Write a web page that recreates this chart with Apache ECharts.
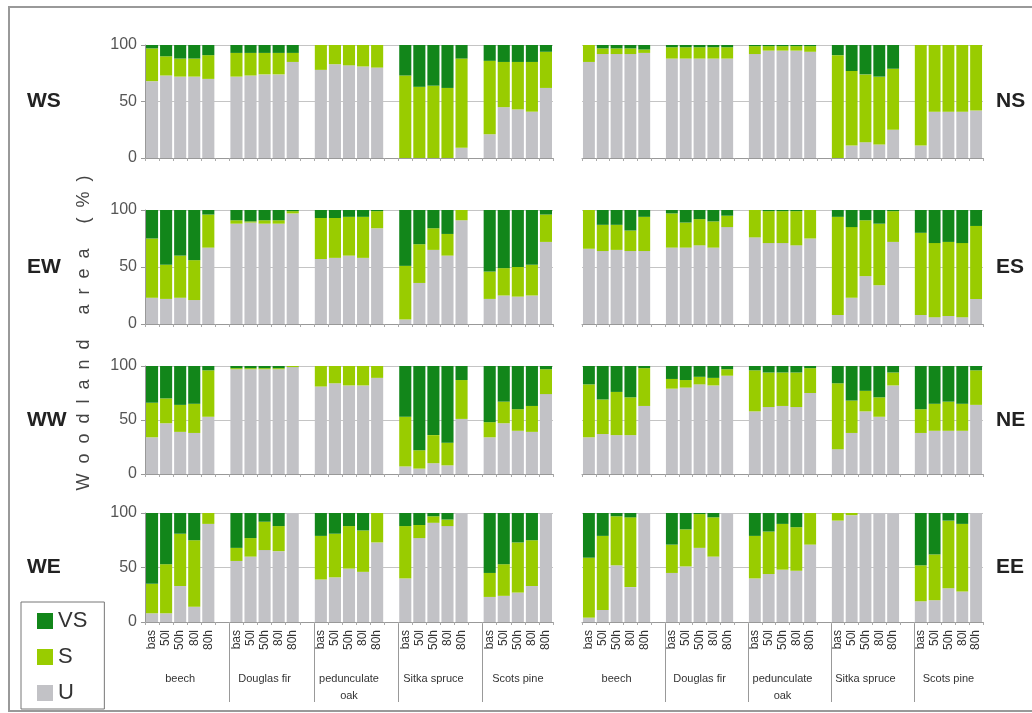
<!DOCTYPE html>
<html>
<head>
<meta charset="utf-8">
<script src="https://cdn.jsdelivr.net/npm/echarts@6/dist/echarts.min.js"></script>
<style>
html, body { margin: 0; padding: 0; background: #fff; }
#main { width: 1032px; height: 713px; }
</style>
</head>
<body>
<div id="main"></div>
<script>
var scenarios = ['bas', '50l', '50h', '80l', '80h'];
var species = ['beech', 'Douglas fir', 'pedunculate\noak', 'Sitka spruce', 'Scots pine'];
var yTicks = [0, 50, 100];

// values per panel: 5 species x 5 scenarios (bas, 50l, 50h, 80l, 80h)
var wsU  = [68,73,72,72,70, 72,73,74,74,85, 78,83,82,81,80, 0,0,0,0,9, 21,45,43,41,62];
var wsS  = [29,17,16,16,21, 21,20,19,19,8, 22,17,18,19,20, 73,63,64,62,79, 65,40,42,44,32];
var wsVS = [3,10,12,12,9, 7,7,7,7,7, 0,0,0,0,0, 27,37,36,38,12, 14,15,15,15,6];

var nsU  = [85,92,92,92,93, 88,88,88,88,88, 92,95,95,95,94, 0,11,14,12,25, 11,41,41,41,42];
var nsS  = [15,5,5,5,3, 10,10,10,10,10, 7,4,4,4,5, 91,66,60,60,54, 89,59,59,59,58];
var nsVS = [0,3,3,3,4, 2,2,2,2,2, 1,1,1,1,1, 9,23,26,28,21, 0,0,0,0,0];

var ewU  = [23,22,23,21,67, 88,89,88,88,97, 57,58,60,58,84, 4,36,65,60,91, 22,25,24,25,72];
var ewS  = [52,30,37,35,29, 3,1,3,3,2, 36,35,34,36,15, 47,34,19,19,9, 24,24,26,27,24];
var ewVS = [25,48,40,44,4, 9,10,9,9,1, 7,7,6,6,1, 49,30,16,21,0, 54,51,50,48,4];

var esU  = [66,64,65,64,64, 67,67,69,67,85, 76,71,71,69,75, 8,23,42,34,72, 8,6,7,6,22];
var esS  = [34,23,22,18,30, 30,22,23,23,10, 24,28,28,30,25, 86,62,49,54,27, 72,65,65,65,64];
var esVS = [0,13,13,18,6, 3,11,8,10,5, 0,1,1,1,0, 6,15,9,12,1, 20,29,28,29,14];

var wwU  = [34,47,39,38,53, 97,97,97,97,99, 81,84,82,82,89, 7,5,10,8,51, 34,47,40,39,74];
var wwS  = [32,23,25,27,43, 1,1,1,1,1, 19,16,18,18,11, 46,17,26,21,36, 14,20,20,24,23];
var wwVS = [34,30,36,35,4, 2,2,2,2,0, 0,0,0,0,0, 47,78,64,71,13, 52,33,40,37,3];

var neU  = [34,37,36,36,63, 79,80,83,82,91, 58,62,63,62,75, 23,38,58,53,82, 38,40,40,40,64];
var neS  = [49,32,40,35,35, 9,7,7,7,6, 38,32,31,32,23, 61,30,19,18,12, 22,25,27,25,32];
var neVS = [17,31,24,29,2, 12,13,10,11,3, 4,6,6,6,2, 16,32,23,29,6, 40,35,33,35,4];

var weU  = [8,8,33,14,90, 56,60,66,65,100, 39,41,49,46,73, 40,77,91,88,100, 23,24,27,33,100];
var weS  = [27,45,48,61,10, 12,17,26,23,0, 40,40,39,38,27, 48,12,6,6,0, 22,29,46,42,0];
var weVS = [65,47,19,25,0, 32,23,8,12,0, 21,19,12,16,0, 12,11,3,6,0, 55,47,27,25,0];

var eeU  = [4,11,52,32,100, 45,51,68,60,100, 40,44,48,47,71, 93,98,100,100,100, 19,20,31,28,100];
var eeS  = [55,68,45,64,0, 26,34,31,36,0, 39,39,42,40,29, 7,2,0,0,0, 33,42,62,62,0];
var eeVS = [41,21,3,4,0, 29,15,1,4,0, 21,17,10,13,0, 0,0,0,0,0, 48,38,7,10,0];

var panels = [
    {name: 'WS', u: wsU, s: wsS, vs: wsVS}, {name: 'NS', u: nsU, s: nsS, vs: nsVS},
    {name: 'EW', u: ewU, s: ewS, vs: ewVS}, {name: 'ES', u: esU, s: esS, vs: esVS},
    {name: 'WW', u: wwU, s: wwS, vs: wwVS}, {name: 'NE', u: neU, s: neS, vs: neVS},
    {name: 'WE', u: weU, s: weS, vs: weVS}, {name: 'EE', u: eeU, s: eeS, vs: eeVS}
];

var colU = '#c2c2c6', colS = '#99cc00', colVS = '#12861a';
var font = 'Liberation Sans, Arial, sans-serif';

// layout of the 4 x 2 panels
var rowTop = [45, 210, 366, 513];
var rowH = [113, 114, 108, 109];
var colLeft = [145, 582];
var colW = [408, 401];

// 5 bars per species, one empty slot between species
function toSlots(arr) {
    var out = [];
    for (var g = 0; g < 5; g++) {
        for (var k = 0; k < 5; k++) out.push(arr[g * 5 + k]);
        if (g < 4) out.push('-');
    }
    return out;
}
var slotLabels = [];
for (var g = 0; g < 5; g++) {
    slotLabels = slotLabels.concat(scenarios);
    if (g < 4) slotLabels.push('');
}
// half-slot axis used for species names and separators
var halfLabels = [];
for (var j = 0; j < 59; j++) {
    halfLabels.push((j - 5) % 12 === 0 ? species[(j - 5) / 12] : '');
}

var grids = [], xAxes = [], yAxes = [], series = [], graphics = [];
panels.forEach(function (p, i) {
    var r = Math.floor(i / 2), c = i % 2;
    grids.push({left: colLeft[c], top: rowTop[r], width: colW[c], height: rowH[r]});
    xAxes.push({
        type: 'category', gridIndex: i, data: slotLabels, position: 'bottom',
        axisLine: {lineStyle: {color: '#999'}},
        axisTick: {show: true, length: 3, lineStyle: {color: '#aaa'}},
        axisLabel: {show: r === 3, interval: 0, rotate: 90, fontSize: 12, margin: 8,
            color: '#333', fontFamily: font}
    });
    yAxes.push({
        type: 'value', gridIndex: i, min: yTicks[0], max: yTicks[2], interval: 50,
        axisLine: {show: c === 0, lineStyle: {color: '#999'}},
        axisTick: {show: c === 0, length: 4, lineStyle: {color: '#999'}},
        axisLabel: {show: c === 0, fontSize: 16, color: '#555', margin: 8, fontFamily: font},
        splitLine: {show: true, lineStyle: {color: '#c4c4c4'}}
    });
    series.push(
        {name: 'U', type: 'bar', stack: 'p' + i, xAxisIndex: i, yAxisIndex: i,
            data: toSlots(p.u), itemStyle: {color: colU}, barCategoryGap: '14%'},
        {name: 'S', type: 'bar', stack: 'p' + i, xAxisIndex: i, yAxisIndex: i,
            data: toSlots(p.s), itemStyle: {color: colS}, barCategoryGap: '14%'},
        {name: 'VS', type: 'bar', stack: 'p' + i, xAxisIndex: i, yAxisIndex: i,
            data: toSlots(p.vs), itemStyle: {color: colVS}, barCategoryGap: '14%'}
    );
    graphics.push({
        type: 'text',
        x: c === 0 ? 27 : 996,
        y: rowTop[r] + rowH[r] / 2,
        style: {text: p.name, font: 'bold 21px ' + font, fill: '#222', verticalAlign: 'middle'}
    });
});

// species names and separators under the bottom row
[6, 7].forEach(function (gi) {
    xAxes.push({
        type: 'category', gridIndex: gi, data: halfLabels, position: 'bottom',
        boundaryGap: false, offset: 2,
        axisLine: {show: false, onZero: false},
        axisTick: {show: true, length: 78, lineStyle: {color: '#999'},
            interval: function (idx) { return idx > 0 && idx < 58 && idx % 12 === 0; }},
        axisLabel: {interval: 0, margin: 46, fontSize: 11, lineHeight: 17,
            color: '#333', fontFamily: font},
        splitLine: {show: false}
    });
});

graphics.push({
    type: 'text', x: 84, y: 333, rotation: Math.PI / 2,
    style: {
        text: 'W  o  o  d  l  a  n  d     a  r  e  a     (  %  )',
        font: '18px ' + font, fill: '#444', align: 'center', verticalAlign: 'middle'
    }
});
graphics.push({
    type: 'rect', shape: {x: 9, y: 7, width: 1040, height: 704},
    style: {fill: 'none', stroke: '#999', lineWidth: 2}, silent: true, z: -1
});

var myChart = echarts.init(document.getElementById('main'));
myChart.setOption({
    animation: false,
    backgroundColor: '#fff',
    textStyle: {fontFamily: font},
    grid: grids,
    xAxis: xAxes,
    yAxis: yAxes,
    series: series,
    legend: {
        data: ['VS', 'S', 'U'], orient: 'vertical', left: 21, top: 602,
        icon: 'rect', itemWidth: 16, itemHeight: 16, itemGap: 14,
        padding: [8, 17, 5, 16], borderColor: '#777', borderWidth: 1,
        textStyle: {fontSize: 22, lineHeight: 22, color: '#333', fontFamily: font}
    },
    graphic: graphics
});
</script>
</body>
</html>
